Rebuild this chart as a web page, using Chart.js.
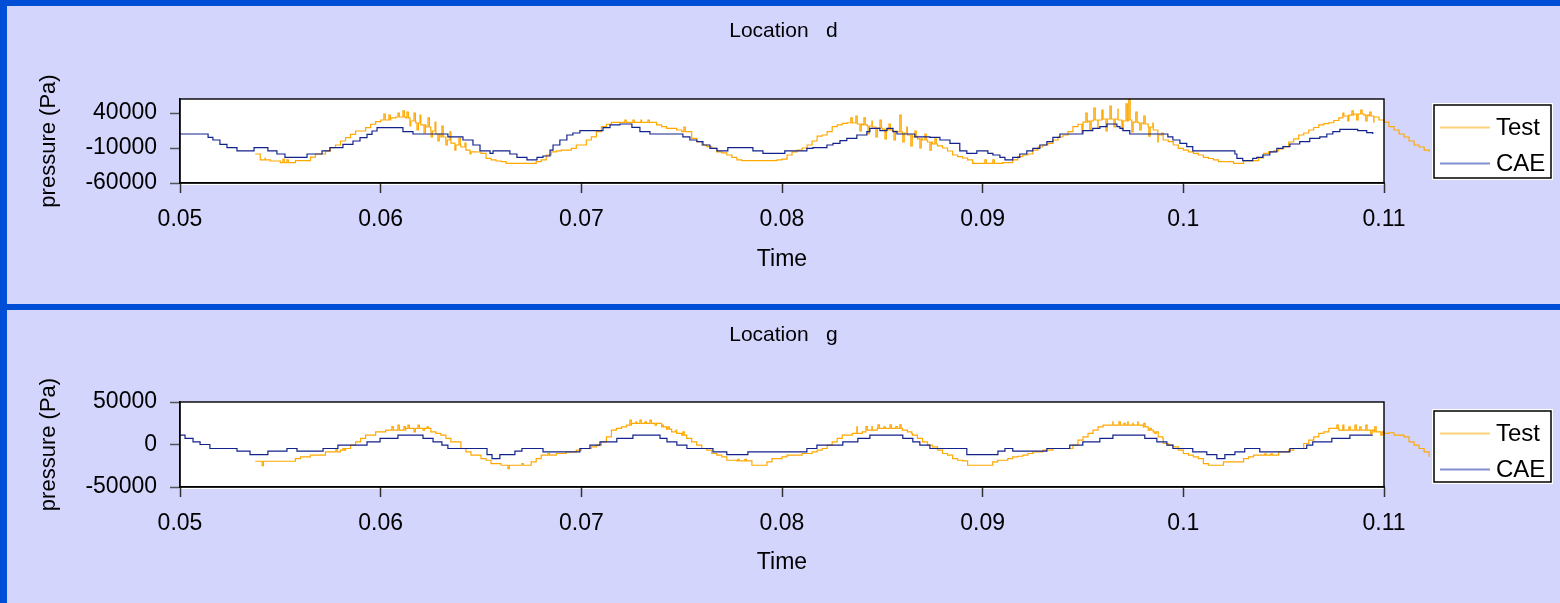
<!DOCTYPE html>
<html>
<head>
<meta charset="utf-8">
<title>Location d / Location g</title>
<script src="https://cdn.jsdelivr.net/npm/chart.js@4.4.1/dist/chart.umd.min.js"></script>
<style>
  html, body { margin: 0; padding: 0; }
  body { width: 1560px; height: 603px; background: #004ed6; position: relative; overflow: hidden; }
  .panel { position: absolute; left: 7px; width: 1553px; background: #d4d5fc; }
  #panelD { top: 6px; height: 298px; }
  #panelG { top: 310px; height: 293px; }
  canvas { display: block; }
</style>
</head>
<body>
<div class="panel" id="panelD"><canvas id="chartD" width="1553" height="298"></canvas></div>
<div class="panel" id="panelG"><canvas id="chartG" width="1553" height="293"></canvas></div>
<script>
// ---------------------------------------------------------------------------
// Data
// ---------------------------------------------------------------------------
const xTickValues = [0.05, 0.06, 0.07, 0.08, 0.09, 0.1, 0.11];
const yTicksD = [-60000, -10000, 40000];
const yTicksG = [-50000, 0, 50000];

// Measured signal: held samples every 0.25 ms starting at t = 0.05375 s,
// plus short transient spikes listed separately.
const TEST_T0 = 0.05375;
const TEST_DT = 0.00025;
const SPIKE_W = 0.00007;

// Location d, measured pressure (Pa)
const testPressureD = [
  -18600, -27100, -27100, -28600, -28600, -31000, -31000, -31000, -28000, -28000,
  -28000, -23000, -18600, -18600, -14000, -9600, -5700, 0, 4700, 9600,
  14300, 14300, 19000, 23900, 27600, 30000, 30000, 32900, 34300, 34300,
  32900, 28600, 25700, 22900, 20000, 14300, 10000, 5700, 1400, -2900,
  -5700, -8600, -12900, -15400, -15700, -17600, -24700, -27100, -28600, -29600,
  -31900, -31900, -31900, -31900, -31900, -31900, -29600, -27100, -20000, -15400,
  -14000, -13000, -13000, -10500, -5700, -5700, 1400, 6000, 13300, 20400,
  23900, 26700, 26700, 26700, 26700, 26700, 26700, 26700, 26700, 26700,
  22900, 20400, 18100, 18100, 15700, 13300, 13300, 3800, -1000, -5700,
  -8000, -10500, -15400, -17100, -20000, -23300, -27100, -28100, -28100, -28100,
  -28100, -28100, -28100, -28100, -27100, -26000, -20000, -15400, -13000, -10000,
  -5700, 0, 7000, 8600, 13300, 20400, 22900, 25300, 26100, 25700,
  24300, 22900, 21400, 20000, 18600, 17100, 15700, 14300, 12900, 11400,
  8600, 5700, 2900, 1400, -1400, -4300, -7100, -10000, -14300, -20000,
  -22400, -24300, -27100, -31900, -31900, -31900, -31900, -31900, -31900, -31000,
  -31000, -27100, -22400, -20000, -18600, -13000, -8600, -5700, -3300, 1400,
  5700, 8600, 13300, 20400, 23900, 27100, 28600, 30000, 30000, 31400,
  31400, 31400, 30000, 28600, 30000, 27100, 25700, 24300, 20000, 15700,
  8600, 1400, -1000, -5700, -10500, -12900, -15400, -17600, -20000, -23300,
  -25000, -27100, -29600, -29600, -29600, -31900, -31900, -28600, -28600, -28000,
  -24300, -17600, -15400, -14000, -11400, -8000, -1400, 2900, 8600, 11400,
  15700, 19300, 22900, 24700, 26100, 29300, 32900, 35700, 37100, 38600,
  38600, 37100, 35700, 34300, 30000, 27100, 20400, 15700, 10000, 5700,
  0, -5700, -8600, -13000, -15400
];
const spikeTimeD = [
  0.05424, 0.05513, 0.05533,
  0.06016, 0.06041, 0.06086, 0.06111, 0.06131, 0.06146, 0.06166, 0.06181, 0.06196, 0.06216,
  0.06236, 0.06251, 0.06271, 0.06285, 0.06305, 0.06325, 0.06345, 0.06370, 0.06390, 0.06420, 0.06445,
  0.07217, 0.07257, 0.07297, 0.07332, 0.07511,
  0.08343, 0.08368, 0.08388, 0.08408, 0.08428, 0.08448, 0.08468, 0.08488, 0.08513, 0.08533,
  0.08558, 0.08587, 0.08602, 0.08622, 0.08642, 0.08662, 0.08687, 0.08712, 0.08737, 0.08762,
  0.09011, 0.09051,
  0.09494, 0.09514, 0.09534, 0.09554, 0.09574, 0.09594, 0.09614, 0.09634, 0.09654, 0.09674,
  0.09694, 0.09714, 0.09728, 0.09743, 0.09763, 0.09783, 0.09803, 0.09828, 0.09848, 0.09873, 0.09893,
  0.10795, 0.10820, 0.10840, 0.10864, 0.10884, 0.10909, 0.10929, 0.10949, 0.10969
];
const spikePressureD = [
  -24300, -25700, -27100,
  38600, 37100, 40000, 42900, 41400, 21400, 40000, 15700, 37100, 11400,
  32900, 5700, 27100, 0, 21400, -5700, 12900, -12900, 4300, -2900, -18600,
  30000, 30000, 30000, 30000, 20000,
  32900, 35700, 14300, 32900, 10000, 28600, 5700, 30000, 2900, 24300,
  1400, 37100, -1400, 20000, -7100, 14300, -10000, 10000, -12900, 2900,
  -27100, -27100,
  11400, 40000, 15700, 47100, 18600, 44300, 14300, 50000, 20000, 45700,
  17100, 52900, 60000, 12900, 41400, 15700, 35700, 7100, 25700, -1400, 11400,
  40000, 28600, 42900, 30000, 44300, 28600, 41400, 27100, 34300
];

// Location d, simulated pressure: value changes at each listed time (s)
const caeTimeD = [
  0.05000, 0.05140, 0.05164, 0.05199, 0.05234, 0.05284, 0.05369, 0.05438, 0.05483, 0.05523,
  0.05633, 0.05708, 0.05747, 0.05812, 0.05862, 0.05897, 0.05932, 0.05957, 0.05982, 0.06111,
  0.06161, 0.06335, 0.06410, 0.06460, 0.06495, 0.06545, 0.06560, 0.06644, 0.06679, 0.06729,
  0.06779, 0.06809, 0.06844, 0.06859, 0.06893, 0.06928, 0.06958, 0.06993, 0.07108, 0.07143,
  0.07192, 0.07252, 0.07292, 0.07342, 0.07506, 0.07541, 0.07576, 0.07606, 0.07641, 0.07676,
  0.07730, 0.07855, 0.07905, 0.08014, 0.08124, 0.08154, 0.08224, 0.08254, 0.08289, 0.08323,
  0.08373, 0.08423, 0.08438, 0.08488, 0.08523, 0.08553, 0.08573, 0.08662, 0.08737, 0.08787,
  0.08837, 0.08886, 0.08921, 0.08971, 0.09026, 0.09051, 0.09086, 0.09111, 0.09150, 0.09185,
  0.09220, 0.09250, 0.09285, 0.09320, 0.09350, 0.09385, 0.09499, 0.09549, 0.09584, 0.09619,
  0.09669, 0.09684, 0.09699, 0.09733, 0.09923, 0.09948, 0.09983, 0.10017, 0.10047, 0.10257,
  0.10267, 0.10296, 0.10346, 0.10366, 0.10396, 0.10431, 0.10466, 0.10496, 0.10531, 0.10580,
  0.10630, 0.10680, 0.10715, 0.10745, 0.10780, 0.10869, 0.10914, 0.10944
];
const caePressureD = [
  10000, 5300, 1400, -4700, -9600, -14000, -9600, -14000, -18600, -23300,
  -18600, -14000, -9600, -4700, 0, 4700, 9600, 14300, 19000, 13300,
  10000, 6000, 1400, -5700, -14000, -17600, -14000, -18600, -23300, -27100,
  -23300, -21400, -13000, -5700, 1400, 8600, 11400, 14700, 19000, 22900,
  24300, 19500, 13300, 10000, 6000, 1400, -1000, -5700, -10500, -14000,
  -9600, -14000, -17600, -14000, -10500, -9600, -5700, -3300, 500, 3800,
  8600, 13300, 18100, 14700, 18100, 13300, 10000, 6000, 5300, 1400,
  -3300, -14000, -17600, -14000, -17600, -20000, -23300, -27100, -23300, -18600,
  -14000, -10500, -5700, -1000, 5300, 10000, 14700, 18100, 20400, 24300,
  20400, 18100, 14700, 10000, 6000, 1400, -3300, -8000, -14000, -18600,
  -24700, -28100, -24700, -23300, -20000, -15400, -10500, -8000, -4300, -1000,
  3800, 6000, 10000, 13300, 16700, 14700, 12000, 10000
];

// Location g, measured pressure (Pa)
const testPressureG = [
  -19700, -19700, -19700, -19700, -19700, -19700, -19700, -19700, -16500, -14600,
  -14600, -12600, -12600, -12600, -8700, -8700, -8700, -6700, -4700, -800,
  3100, 7100, 11000, 11000, 14900, 14900, 16900, 16900, 16900, 16900,
  18900, 18900, 18900, 18900, 18900, 14900, 13000, 11000, 7100, 3100,
  3100, -4700, -8700, -12600, -12600, -16500, -18500, -22400, -22400, -24400,
  -24400, -24400, -24400, -24400, -24400, -20500, -16500, -12600, -12600, -12600,
  -10600, -10600, -8700, -8700, -6700, -4700, -4700, -2800, -800, 3100,
  9000, 16900, 18900, 20800, 22800, 24800, 24800, 24800, 24800, 24800,
  24800, 20800, 18000, 14900, 13000, 11000, 7100, 3100, -800, -4700,
  -6700, -10600, -12600, -14600, -18500, -18500, -19300, -19300, -19300, -24400,
  -24400, -24400, -20500, -16500, -16500, -14600, -12600, -12600, -12600, -10600,
  -10600, -8700, -6700, -4700, -800, 3100, 7100, 11000, 11000, 13000,
  13000, 14900, 16900, 16900, 18900, 18900, 18900, 18900, 18900, 16900,
  14900, 11000, 7100, 3100, -800, -2800, -6700, -10600, -12600, -16500,
  -18500, -19300, -24400, -24400, -24400, -24400, -24400, -20500, -18500, -18500,
  -16500, -14600, -13800, -12600, -10600, -8700, -8700, -6700, -6700, -4700,
  -4700, -4700, -4700, -800, 5100, 9000, 13000, 16900, 20800, 22800,
  22800, 22800, 22800, 22800, 22800, 22800, 22800, 20800, 16900, 14900,
  9000, 1200, -800, -2800, -6700, -10600, -12600, -14600, -16500, -22400,
  -24400, -24400, -24400, -20500, -20500, -20500, -20500, -16500, -14600, -12600,
  -12600, -12600, -12600, -12600, -8700, -8700, -6700, -4700, -4700, 1200,
  5100, 9000, 13000, 14900, 18900, 18900, 16900, 16900, 16900, 16900,
  16900, 16900, 16900, 14900, 14900, 13000, 13800, 11000, 11000, 9000,
  3100, -800, -4700, -8700, -14600
];
const spikeTimeG = [
  0.05409, 0.05777, 0.05812,
  0.06056, 0.06086, 0.06116, 0.06136, 0.06166, 0.06186, 0.06211, 0.06231,
  0.06634, 0.06704, 0.06834,
  0.07242, 0.07272, 0.07292, 0.07317, 0.07342, 0.07367, 0.07402, 0.07432, 0.07472, 0.07506,
  0.07780, 0.07815,
  0.08373, 0.08418, 0.08448, 0.08478, 0.08508, 0.08538, 0.08567, 0.08587, 0.08617, 0.08647,
  0.09649, 0.09679, 0.09704, 0.09723, 0.09748, 0.09773, 0.09803, 0.09833, 0.09858, 0.09898,
  0.10406, 0.10436,
  0.10765, 0.10795, 0.10825, 0.10855, 0.10879, 0.10909, 0.10934, 0.10954, 0.10984
];
const spikePressureG = [
  -25000, -4700, -4700,
  21000, 22800, 21000, 22800, 14900, 22800, 16900, 20800,
  -28300, -22400, -10600,
  28700, 26700, 28700, 26700, 28700, 22800, 22800, 20800, 16900, 14900,
  -17500, -17500,
  20800, 21000, 21000, 23000, 20800, 23000, 21000, 23000, 17000, 12900,
  26700, 26700, 24800, 26700, 24800, 26700, 24800, 18900, 13000, 7000,
  -11000, -11000,
  22800, 22800, 20800, 22800, 20800, 22800, 12900, 20800, 11000
];

// Location g, simulated pressure: value changes at each listed time (s)
const caeTimeG = [
  0.05000, 0.05025, 0.05065, 0.05100, 0.05149, 0.05284, 0.05349, 0.05438, 0.05533, 0.05583,
  0.05713, 0.05787, 0.05932, 0.05997, 0.06086, 0.06211, 0.06261, 0.06305, 0.06335, 0.06530,
  0.06555, 0.06594, 0.06669, 0.06704, 0.06809, 0.06993, 0.07043, 0.07093, 0.07177, 0.07257,
  0.07392, 0.07427, 0.07476, 0.07526, 0.07656, 0.07725, 0.07830, 0.08124, 0.08174, 0.08303,
  0.08378, 0.08438, 0.08602, 0.08652, 0.08687, 0.08737, 0.08921, 0.09076, 0.09111, 0.09150,
  0.09320, 0.09434, 0.09499, 0.09584, 0.09649, 0.09808, 0.09868, 0.09918, 0.09948, 0.10047,
  0.10117, 0.10167, 0.10207, 0.10257, 0.10306, 0.10381, 0.10531, 0.10615, 0.10645, 0.10740,
  0.10830, 0.10944
];
const caePressureG = [
  11000, 7100, 3100, 0, -4700, -7900, -11800, -7900, -4700, -7900,
  -4700, -800, 3100, 7100, 11000, 7100, 3100, -800, -4700, -11800,
  -16500, -11800, -7900, -4700, -8700, -4700, -800, 3100, 7100, 11000,
  7100, 3100, -800, -4700, -8700, -11800, -8700, -4700, -800, 3100,
  7100, 11000, 7100, 3100, -800, -4700, -11800, -7900, -4700, -7900,
  -4700, -800, 3100, 7100, 11000, 7100, 3100, -800, -4700, -8700,
  -11800, -16500, -11800, -8700, -4700, -8700, -4700, -800, 3100, 7100,
  11000, 11000
];

// ---------------------------------------------------------------------------
// Styling and helpers
// ---------------------------------------------------------------------------
const FONT = '"Liberation Sans", Arial, Helvetica, sans-serif';
const TEST_COLOR = '#ffa800';
const CAE_COLOR = '#13238c';
const X_MIN = 0.05;
const X_MAX = 0.11;

Chart.defaults.font.family = FONT;
Chart.defaults.color = '#000';

function toPoints(xs, ys) {
  return ys.map((y, i) => ({ x: xs[i], y }));
}

// Held samples merged with the transient spikes; after each spike the
// signal returns to the sample value held at that moment.
function measuredSeries(values, spikeT, spikeV) {
  const held = (t) => {
    let k = Math.floor((t - TEST_T0) / TEST_DT + 1e-9);
    k = Math.max(0, Math.min(values.length - 1, k));
    return values[k];
  };
  const pts = values.map((v, i) => ({ x: +(TEST_T0 + i * TEST_DT).toFixed(5), y: v }));
  spikeT.forEach((t, j) => {
    pts.push({ x: t, y: spikeV[j] });
    pts.push({ x: +(t + SPIKE_W).toFixed(6), y: held(t + SPIKE_W) });
  });
  pts.sort((a, b) => a.x - b.x);
  return pts;
}

// White plot area with a black frame around it
const plotFrame = {
  id: 'plotFrame',
  beforeDraw(chart) {
    const { ctx, chartArea: a } = chart;
    ctx.save();
    ctx.fillStyle = '#ffffff';
    ctx.fillRect(a.left, a.top, a.width, a.height + 2);
    ctx.restore();
  },
  afterDatasetsDraw(chart) {
    const { ctx, chartArea: a } = chart;
    ctx.save();
    ctx.strokeStyle = '#000';
    ctx.lineWidth = 1.4;
    ctx.strokeRect(a.left, a.top, a.width, a.height);
    ctx.restore();
  }
};

// Boxed legend to the right of the plot
const boxLegend = {
  id: 'boxLegend',
  afterDraw(chart, args, o) {
    const { ctx } = chart;
    ctx.save();
    ctx.fillStyle = '#ffffff';
    ctx.fillRect(o.left - 1, o.top - 1, o.width + 2, o.height + 2);
    ctx.strokeStyle = '#000';
    ctx.lineWidth = 1.5;
    ctx.strokeRect(o.left + 1, o.top + 1, o.width - 2, o.height - 2);
    chart.data.datasets.forEach((ds, i) => {
      const y = o.top + o.rows[i];
      ctx.strokeStyle = o.swatch[i];
      ctx.lineWidth = 2;
      ctx.beginPath();
      ctx.moveTo(o.left + 7, y);
      ctx.lineTo(o.left + 57, y);
      ctx.stroke();
      ctx.fillStyle = '#000';
      ctx.font = '24px ' + FONT;
      ctx.textAlign = 'left';
      ctx.textBaseline = 'middle';
      ctx.fillText(ds.label, o.left + 63, y + 1);
    });
    ctx.restore();
  }
};

function buildChart(canvasId, spec) {
  const canvas = document.getElementById(canvasId);
  const H = canvas.height;
  const W = canvas.width;
  return new Chart(canvas, {
    type: 'line',
    data: {
      datasets: [
        {
          label: 'Test',
          data: measuredSeries(spec.test, spec.spikeTime, spec.spikeValue),
          borderColor: TEST_COLOR,
          borderWidth: 1.2,
          stepped: true,
          pointRadius: 0,
          clip: false,
          order: 1
        },
        {
          label: 'CAE',
          data: toPoints(spec.caeTime, spec.cae),
          borderColor: CAE_COLOR,
          borderWidth: 1.2,
          stepped: true,
          pointRadius: 0,
          clip: false,
          order: 0
        }
      ]
    },
    options: {
      responsive: false,
      devicePixelRatio: 1,
      animation: false,
      events: [],
      layout: { padding: 0 },
      plugins: {
        legend: { display: false },
        tooltip: { enabled: false },
        title: {
          display: true,
          text: spec.title,
          color: '#000',
          font: { size: 21, weight: 'normal', family: FONT },
          padding: { top: 13, bottom: spec.plotTop - 13 - 25.2 }
        },
        boxLegend: {
          left: 1426, top: spec.legendTop, width: 119, height: spec.legendHeight,
          rows: [23.5, 59.5],
          swatch: ['#ffd27a', '#8190cf']
        }
      },
      scales: {
        x: {
          type: 'linear',
          bounds: 'data',
          // range set after the data limits so that the measured trace
          // keeps running past the right edge of the frame
          afterDataLimits: (s) => { s.min = X_MIN; s.max = X_MAX; },
          afterBuildTicks: (s) => { s.ticks = xTickValues.map(v => ({ value: v })); },
          afterFit: (s) => { s.height = H - spec.plotBottom; },
          ticks: {
            color: '#000',
            font: { size: 23 },
            padding: 13,
            maxRotation: 0,
            autoSkip: false,
            callback: (v) => String(v)
          },
          grid: { display: true, drawOnChartArea: false, drawTicks: true, tickLength: 10, tickColor: '#333', tickWidth: 1.5 },
          border: { display: true, color: '#000', width: 1.4 },
          title: {
            display: true,
            text: 'Time',
            color: '#000',
            font: { size: 23 },
            padding: { top: 0, bottom: spec.timeOffset - 13.8 }
          }
        },
        y: {
          type: 'linear',
          position: 'left',
          min: spec.yMin,
          max: spec.yMax,
          afterBuildTicks: (s) => { s.ticks = spec.yTicks.map(v => ({ value: v })); },
          afterFit: (s) => { s.width = 173; },
          ticks: {
            color: '#000',
            font: { size: 23 },
            padding: 13,
            callback: (v) => String(v)
          },
          grid: { display: true, drawOnChartArea: false, drawTicks: true, tickLength: 10, tickColor: '#555', tickWidth: 1.5 },
          border: { display: true, color: '#000', width: 1.4 },
          title: {
            display: true,
            text: 'pressure (Pa)',
            color: '#000',
            font: { size: 22 },
            padding: { top: 28.5, bottom: 0 }
          }
        },
        // empty strip on the right that holds the legend
        legendStrip: {
          type: 'linear',
          position: 'right',
          display: true,
          afterFit: (s) => { s.width = W - 1377; },
          ticks: { display: false },
          grid: { display: false },
          border: { display: false }
        }
      }
    },
    plugins: [plotFrame, boxLegend]
  });
}

buildChart('chartD', {
  title: 'Location   d',
  test: testPressureD,
  spikeTime: spikeTimeD,
  spikeValue: spikePressureD,
  caeTime: caeTimeD,
  cae: caePressureD,
  yMin: -60000, yMax: 60000, yTicks: yTicksD,
  plotTop: 93, plotBottom: 177,
  timeOffset: 44,
  legendTop: 98, legendHeight: 75
});

buildChart('chartG', {
  title: 'Location   g',
  test: testPressureG,
  spikeTime: spikeTimeG,
  spikeValue: spikePressureG,
  caeTime: caeTimeG,
  cae: caePressureG,
  yMin: -50000, yMax: 50000, yTicks: yTicksG,
  plotTop: 92, plotBottom: 177,
  timeOffset: 40,
  legendTop: 100, legendHeight: 73
});
</script>
</body>
</html>
